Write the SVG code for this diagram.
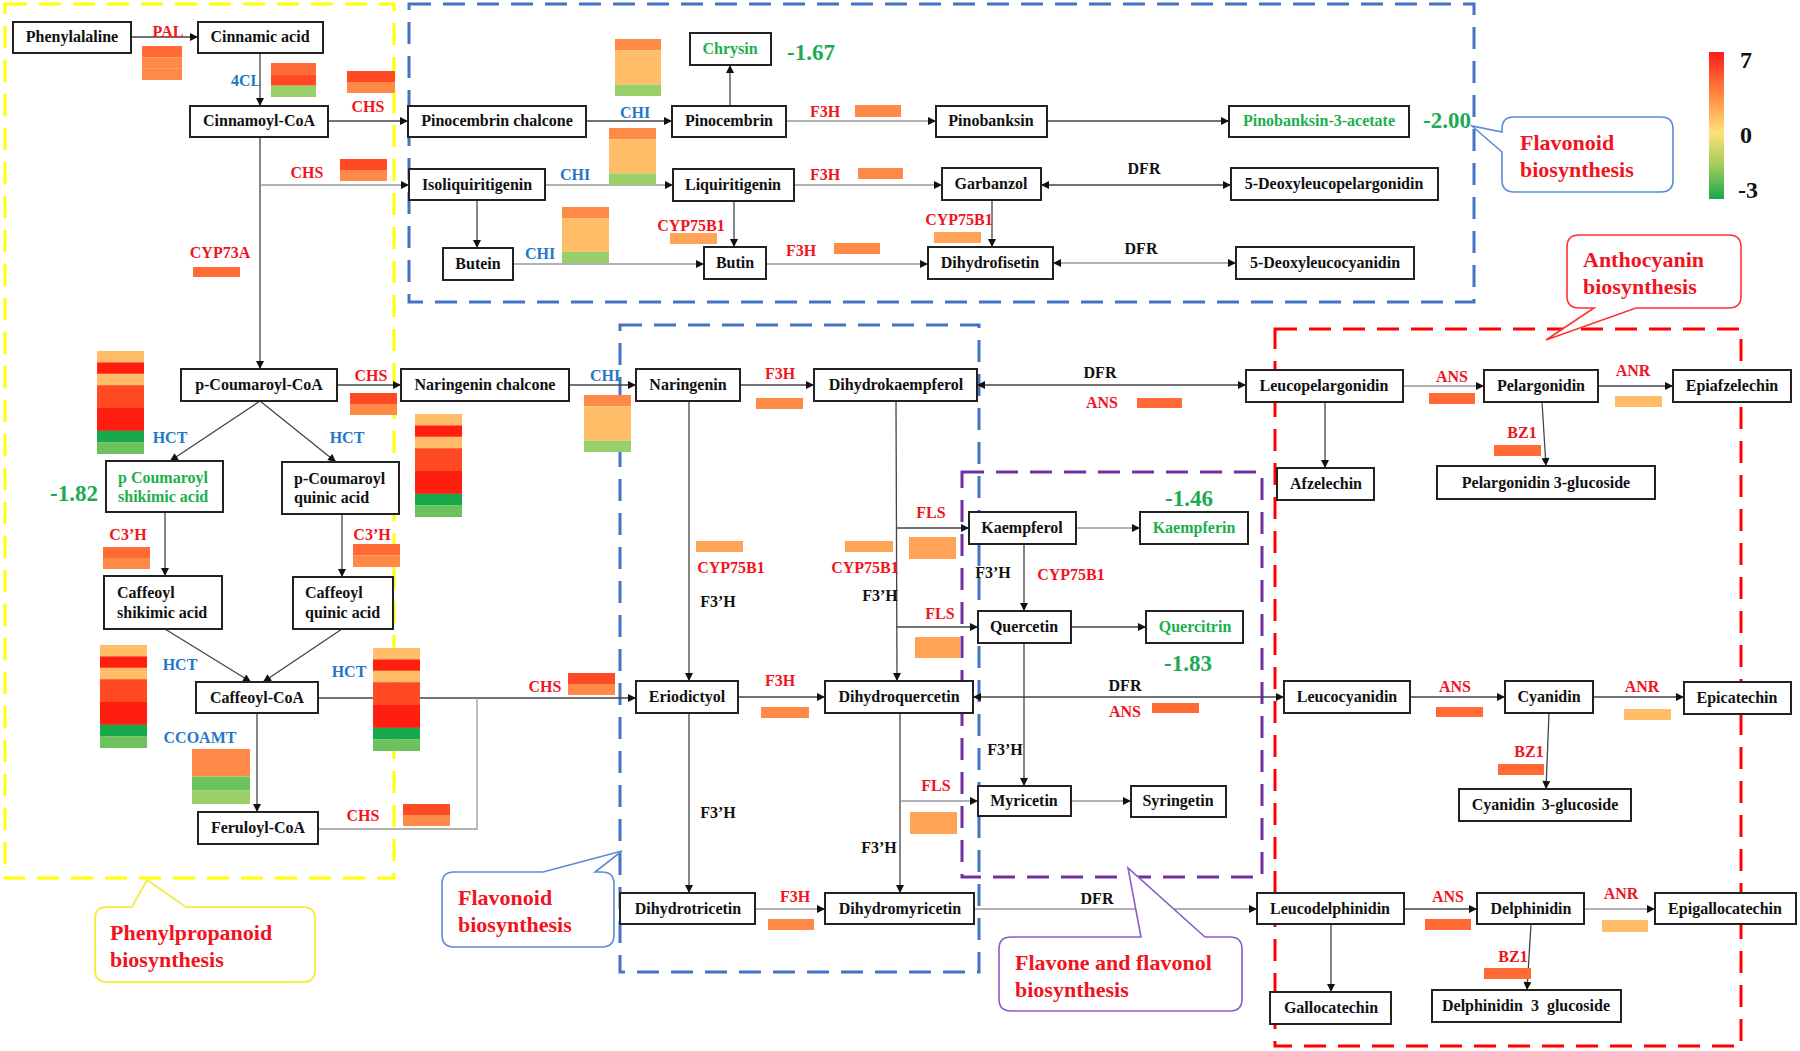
<svg xmlns="http://www.w3.org/2000/svg" width="1800" height="1051" viewBox="0 0 1800 1051">
<defs>
<style>
text{font-family:"Liberation Serif","Times New Roman",serif;font-weight:bold}
.bx{fill:#fff;stroke:#222;stroke-width:2}
.nt{font-size:16px;fill:#111;text-anchor:middle}
.nl{font-size:16px;fill:#111}
.gt{fill:#1DAF4B}
.er{font-size:16px;fill:#F0141E;text-anchor:middle}
.eb{font-size:16px;fill:#2477C8;text-anchor:middle}
.ek{font-size:16px;fill:#111;text-anchor:middle}
.num{font-size:23px;fill:#1DAA55;text-anchor:middle}
.ct{font-size:22px;fill:#F0141E}
.ln{fill:none;stroke:#444;stroke-width:1.3}
.lg{fill:none;stroke:#999;stroke-width:1.3}
.r1{fill:#FF1E0F}.r2{fill:#FF4A24}.o1{fill:#FF6A35}.o2{fill:#FF8A48}.o3{fill:#FFA456}.p1{fill:#FFBD68}
.g1{fill:#17A84B}.g2{fill:#6CC35E}.g3{fill:#98CF68}
.dash{fill:none;stroke-width:3;stroke-dasharray:22 12}
</style>
<marker id="ah" viewBox="0 0 10 10" refX="10" refY="5" markerWidth="9" markerHeight="8" markerUnits="userSpaceOnUse" orient="auto-start-reverse"><path d="M0,0 L10,5 L0,10 z" fill="#111"/></marker>
<linearGradient id="cb" x1="0" y1="0" x2="0" y2="1">
<stop offset="0" stop-color="#FF1A1A"/><stop offset="0.3" stop-color="#FF8C40"/><stop offset="0.55" stop-color="#FFE07A"/><stop offset="0.78" stop-color="#9CCB5A"/><stop offset="1" stop-color="#17A84B"/>
</linearGradient>
</defs>
<rect width="1800" height="1051" fill="#fff"/>

<g id="regions">
<rect class="dash" x="5" y="4" width="389" height="874" stroke="#FFFF00"/>
<rect class="dash" x="409" y="4" width="1065" height="298" stroke="#4472C4"/>
<rect class="dash" x="620" y="325" width="359" height="647" stroke="#4472C4"/>
<rect class="dash" x="962" y="472" width="300" height="405" stroke="#7030A0"/>
<rect class="dash" x="1275" y="329" width="466" height="717" stroke="#FF0000"/>
</g>

<g id="connectors">
<line class="ln" x1="131" y1="37" x2="198" y2="37" marker-end="url(#ah)"/>
<line class="ln" x1="260" y1="53" x2="260" y2="106" marker-end="url(#ah)"/>
<line class="ln" x1="328" y1="121" x2="408" y2="121" marker-end="url(#ah)"/>
<line class="ln" x1="260" y1="137" x2="260" y2="369" marker-end="url(#ah)"/>
<line class="lg" x1="260" y1="185" x2="409" y2="185" marker-end="url(#ah)"/>
<line class="ln" x1="586" y1="121" x2="672" y2="121" marker-end="url(#ah)"/>
<line class="ln" x1="730" y1="106" x2="730" y2="65" marker-end="url(#ah)"/>
<line class="lg" x1="786" y1="121" x2="936" y2="121" marker-end="url(#ah)"/>
<line class="ln" x1="1047" y1="121" x2="1229" y2="121" marker-end="url(#ah)"/>
<line class="lg" x1="545" y1="185" x2="673" y2="185" marker-end="url(#ah)"/>
<line class="ln" x1="477" y1="200" x2="477" y2="248" marker-end="url(#ah)"/>
<line class="lg" x1="794" y1="185" x2="942" y2="185" marker-end="url(#ah)"/>
<line class="ln" x1="1041" y1="185" x2="1231" y2="185" marker-start="url(#ah)" marker-end="url(#ah)"/>
<line class="ln" x1="734" y1="201" x2="734" y2="247" marker-end="url(#ah)"/>
<line class="lg" x1="513" y1="264" x2="704" y2="264" marker-end="url(#ah)"/>
<line class="lg" x1="766" y1="264" x2="928" y2="264" marker-end="url(#ah)"/>
<line class="ln" x1="992" y1="200" x2="992" y2="247" marker-end="url(#ah)"/>
<line class="lg" x1="1053" y1="263" x2="1236" y2="263" marker-start="url(#ah)" marker-end="url(#ah)"/>
<line class="ln" x1="337" y1="385" x2="401" y2="385" marker-end="url(#ah)"/>
<line class="ln" x1="569" y1="385" x2="636" y2="385" marker-end="url(#ah)"/>
<line class="ln" x1="740" y1="385" x2="814" y2="385" marker-end="url(#ah)"/>
<line class="ln" x1="977" y1="385" x2="1246" y2="385" marker-start="url(#ah)" marker-end="url(#ah)"/>
<line class="lg" x1="1403" y1="386" x2="1484" y2="386" marker-end="url(#ah)"/>
<line class="ln" x1="1598" y1="386" x2="1673" y2="386" marker-end="url(#ah)"/>
<line class="ln" x1="1325" y1="402" x2="1325" y2="468" marker-end="url(#ah)"/>
<line class="ln" x1="1542" y1="402" x2="1546" y2="466" marker-end="url(#ah)"/>
<line class="ln" x1="260" y1="401" x2="170" y2="461" marker-end="url(#ah)"/>
<line class="ln" x1="260" y1="401" x2="336" y2="462" marker-end="url(#ah)"/>
<line class="ln" x1="165" y1="512" x2="165" y2="576" marker-end="url(#ah)"/>
<line class="ln" x1="342" y1="514" x2="342" y2="577" marker-end="url(#ah)"/>
<line class="ln" x1="165" y1="629" x2="251" y2="682" marker-end="url(#ah)"/>
<line class="ln" x1="342" y1="629" x2="263" y2="682" marker-end="url(#ah)"/>
<line class="ln" x1="257" y1="713" x2="257" y2="812" marker-end="url(#ah)"/>
<line class="ln" x1="318" y1="698" x2="636" y2="698" marker-end="url(#ah)"/>
<polyline class="lg" points="318,829 477,829 477,698"/>
<line class="ln" x1="689" y1="401" x2="689" y2="681" marker-end="url(#ah)"/>
<line class="ln" x1="896" y1="401" x2="897" y2="681" marker-end="url(#ah)"/>
<line class="ln" x1="897" y1="528" x2="969" y2="528" marker-end="url(#ah)"/>
<line class="ln" x1="897" y1="627" x2="978" y2="627" marker-end="url(#ah)"/>
<line class="ln" x1="738" y1="697" x2="825" y2="697" marker-end="url(#ah)"/>
<line class="ln" x1="973" y1="697" x2="1284" y2="697" marker-start="url(#ah)" marker-end="url(#ah)"/>
<line class="ln" x1="1410" y1="697" x2="1505" y2="697" marker-end="url(#ah)"/>
<line class="ln" x1="1593" y1="697" x2="1684" y2="697" marker-end="url(#ah)"/>
<line class="ln" x1="1549" y1="713" x2="1546" y2="789" marker-end="url(#ah)"/>
<line class="lg" x1="1076" y1="528" x2="1140" y2="528" marker-end="url(#ah)"/>
<line class="ln" x1="1024" y1="544" x2="1024" y2="611" marker-end="url(#ah)"/>
<line class="ln" x1="1071" y1="627" x2="1146" y2="627" marker-end="url(#ah)"/>
<line class="ln" x1="1024" y1="643" x2="1024" y2="786" marker-end="url(#ah)"/>
<line class="lg" x1="1071" y1="801" x2="1131" y2="801" marker-end="url(#ah)"/>
<line class="ln" x1="900" y1="713" x2="900" y2="893" marker-end="url(#ah)"/>
<line class="lg" x1="900" y1="801" x2="978" y2="801" marker-end="url(#ah)"/>
<line class="ln" x1="689" y1="713" x2="689" y2="893" marker-end="url(#ah)"/>
<line class="lg" x1="755" y1="909" x2="825" y2="909" marker-end="url(#ah)"/>
<line class="lg" x1="974" y1="909" x2="1257" y2="909" marker-end="url(#ah)"/>
<line class="ln" x1="1404" y1="909" x2="1477" y2="909" marker-end="url(#ah)"/>
<line class="lg" x1="1584" y1="909" x2="1655" y2="909" marker-end="url(#ah)"/>
<line class="ln" x1="1331" y1="924" x2="1331" y2="992" marker-end="url(#ah)"/>
<line class="ln" x1="1531" y1="924" x2="1527" y2="990" marker-end="url(#ah)"/>
</g>

<g id="heatmaps">
<rect class="o1" x="142" y="46" width="40" height="11.4"/><rect class="o2" x="142" y="57.3" width="40" height="11.4"/><rect class="o2" x="142" y="68.6" width="40" height="11.4"/>
<rect class="o1" x="271" y="63" width="45" height="11.4"/><rect class="r2" x="271" y="74.3" width="45" height="11.4"/><rect class="g3" x="271" y="85.6" width="45" height="11.4"/>
<rect class="r2" x="347" y="71" width="48" height="11"/><rect class="o2" x="347" y="82" width="48" height="11"/>
<rect class="r2" x="340" y="159" width="47" height="11"/><rect class="o2" x="340" y="170" width="47" height="11"/>
<rect class="o1" x="193" y="267" width="47" height="10"/>
<rect class="o2" x="615" y="39" width="46" height="11.4"/><rect class="p1" x="615" y="50.4" width="46" height="34.2"/><rect class="g3" x="615" y="84.6" width="46" height="11.4"/>
<rect class="o2" x="855" y="105" width="46" height="12"/>
<rect class="o2" x="609" y="128" width="47" height="11.4"/><rect class="p1" x="609" y="139.4" width="47" height="34.2"/><rect class="g3" x="609" y="173.6" width="47" height="11.4"/>
<rect class="o2" x="858" y="168" width="45" height="11"/>
<rect class="o2" x="562" y="207" width="47" height="11.2"/><rect class="p1" x="562" y="218.2" width="47" height="33.6"/><rect class="g3" x="562" y="251.8" width="47" height="11.2"/>
<rect class="o3" x="670" y="233" width="47" height="11"/>
<rect class="o2" x="834" y="243" width="46" height="11"/>
<rect class="o3" x="934" y="232" width="47" height="11"/>
<rect class="r2" x="350" y="393" width="47" height="11"/><rect class="o2" x="350" y="404" width="47" height="11"/>
<g id="hm-big1">
<rect class="p1" x="97" y="351" width="47" height="11.5"/><rect class="r1" x="97" y="362.4" width="47" height="11.5"/><rect class="p1" x="97" y="373.8" width="47" height="11.5"/><rect class="r2" x="97" y="385.2" width="47" height="22.9"/><rect class="r1" x="97" y="408" width="47" height="22.9"/><rect class="g1" x="97" y="430.8" width="47" height="11.5"/><rect class="g2" x="97" y="442.2" width="47" height="11.8"/>
</g>
<g id="hm-big2">
<rect class="p1" x="415" y="414" width="47" height="11.5"/><rect class="r1" x="415" y="425.4" width="47" height="11.5"/><rect class="p1" x="415" y="436.8" width="47" height="11.5"/><rect class="r2" x="415" y="448.2" width="47" height="22.9"/><rect class="r1" x="415" y="471" width="47" height="22.9"/><rect class="g1" x="415" y="493.8" width="47" height="11.5"/><rect class="g2" x="415" y="505.2" width="47" height="11.8"/>
</g>
<rect class="o2" x="584" y="395" width="47" height="11.4"/><rect class="p1" x="584" y="406.4" width="47" height="34.2"/><rect class="g3" x="584" y="440.6" width="47" height="11.4"/>
<rect class="o2" x="756" y="398" width="47" height="11"/>
<rect class="o1" x="1137" y="398" width="45" height="10"/>
<rect class="o1" x="1429" y="393" width="46" height="11"/>
<rect class="p1" x="1615" y="396" width="47" height="11"/>
<rect class="o1" x="1494" y="445" width="47" height="11"/>
<rect class="o1" x="103" y="547" width="47" height="11"/><rect class="o2" x="103" y="558" width="47" height="11"/>
<rect class="o1" x="353" y="544" width="47" height="11.5"/><rect class="o2" x="353" y="555.5" width="47" height="11.5"/>
<g id="hm-big3">
<rect class="p1" x="100" y="645" width="47" height="11.5"/><rect class="r1" x="100" y="656.4" width="47" height="11.5"/><rect class="p1" x="100" y="667.8" width="47" height="11.5"/><rect class="r2" x="100" y="679.2" width="47" height="22.9"/><rect class="r1" x="100" y="702" width="47" height="22.9"/><rect class="g1" x="100" y="724.8" width="47" height="11.5"/><rect class="g2" x="100" y="736.2" width="47" height="11.8"/>
</g>
<g id="hm-big4">
<rect class="p1" x="373" y="648" width="47" height="11.5"/><rect class="r1" x="373" y="659.4" width="47" height="11.5"/><rect class="p1" x="373" y="670.8" width="47" height="11.5"/><rect class="r2" x="373" y="682.2" width="47" height="22.9"/><rect class="r1" x="373" y="705" width="47" height="22.9"/><rect class="g1" x="373" y="727.8" width="47" height="11.5"/><rect class="g2" x="373" y="739.2" width="47" height="11.8"/>
</g>
<rect class="o2" x="192" y="749" width="58" height="27.5"/><rect class="g2" x="192" y="776.5" width="58" height="14"/><rect class="g3" x="192" y="790.3" width="58" height="13.7"/>
<rect class="r2" x="568" y="673" width="47" height="11"/><rect class="o2" x="568" y="684" width="47" height="11"/>
<rect class="r2" x="403" y="804" width="47" height="11"/><rect class="o2" x="403" y="815" width="47" height="11"/>
<rect class="o3" x="696" y="541" width="47" height="11"/>
<rect class="o3" x="845" y="541" width="48" height="11"/>
<rect class="o3" x="909" y="537" width="47" height="22"/>
<rect class="o3" x="915" y="637" width="45" height="21"/>
<rect class="o3" x="910" y="812" width="47" height="22"/>
<rect class="o2" x="761" y="707" width="48" height="11"/>
<rect class="o1" x="1152" y="703" width="47" height="10"/>
<rect class="o1" x="1436" y="707" width="47" height="10"/>
<rect class="p1" x="1624" y="709" width="47" height="11"/>
<rect class="o1" x="1498" y="764" width="46" height="11"/>
<rect class="o2" x="768" y="919" width="46" height="11"/>
<rect class="o1" x="1425" y="919" width="46" height="11"/>
<rect class="p1" x="1602" y="920" width="46" height="12"/>
<rect class="o1" x="1484" y="968" width="47" height="11"/>
</g>

<g id="n-phenylalaline"><rect class="bx" x="13" y="22" width="118" height="31"/><text class="nt" x="72" y="42">Phenylalaline</text></g>
<g id="n-cinnamic"><rect class="bx" x="198" y="22" width="125" height="31"/><text class="nt" x="260" y="42">Cinnamic acid</text></g>
<g id="n-cinnamoylcoa"><rect class="bx" x="190" y="106" width="138" height="31"/><text class="nt" x="259" y="126">Cinnamoyl-CoA</text></g>
<g id="n-pinocembrinchalcone"><rect class="bx" x="408" y="106" width="178" height="31"/><text class="nt" x="497" y="126">Pinocembrin chalcone</text></g>
<g id="n-chrysin"><rect class="bx" x="690" y="33" width="81" height="32"/><text class="nt gt" x="730" y="54">Chrysin</text></g>
<g id="n-pinocembrin"><rect class="bx" x="672" y="106" width="114" height="31"/><text class="nt" x="729" y="126">Pinocembrin</text></g>
<g id="n-pinobanksin"><rect class="bx" x="936" y="106" width="111" height="31"/><text class="nt" x="991" y="126">Pinobanksin</text></g>
<g id="n-pinobanksin3acetate"><rect class="bx" x="1229" y="106" width="180" height="31"/><text class="nt gt" x="1319" y="126">Pinobanksin-3-acetate</text></g>
<g id="n-isoliquiritigenin"><rect class="bx" x="409" y="169" width="136" height="31"/><text class="nt" x="477" y="190">Isoliquiritigenin</text></g>
<g id="n-liquiritigenin"><rect class="bx" x="673" y="169" width="121" height="32"/><text class="nt" x="733" y="190">Liquiritigenin</text></g>
<g id="n-garbanzol"><rect class="bx" x="942" y="168" width="99" height="32"/><text class="nt" x="991" y="189">Garbanzol</text></g>
<g id="n-5deoxyleucopelargonidin"><rect class="bx" x="1231" y="168" width="207" height="32"/><text class="nt" x="1334" y="189">5-Deoxyleucopelargonidin</text></g>
<g id="n-butein"><rect class="bx" x="443" y="248" width="70" height="32"/><text class="nt" x="478" y="269">Butein</text></g>
<g id="n-butin"><rect class="bx" x="704" y="247" width="62" height="32"/><text class="nt" x="735" y="268">Butin</text></g>
<g id="n-dihydrofisetin"><rect class="bx" x="928" y="247" width="125" height="32"/><text class="nt" x="990" y="268">Dihydrofisetin</text></g>
<g id="n-5deoxyleucocyanidin"><rect class="bx" x="1236" y="247" width="178" height="32"/><text class="nt" x="1325" y="268">5-Deoxyleucocyanidin</text></g>
<g id="n-pcoumaroylcoa"><rect class="bx" x="181" y="369" width="156" height="32"/><text class="nt" x="259" y="390">p-Coumaroyl-CoA</text></g>
<g id="n-naringeninchalcone"><rect class="bx" x="401" y="369" width="168" height="32"/><text class="nt" x="485" y="390">Naringenin chalcone</text></g>
<g id="n-naringenin"><rect class="bx" x="636" y="369" width="104" height="32"/><text class="nt" x="688" y="390">Naringenin</text></g>
<g id="n-dihydrokaempferol"><rect class="bx" x="814" y="369" width="163" height="32"/><text class="nt" x="896" y="390">Dihydrokaempferol</text></g>
<g id="n-leucopelargonidin"><rect class="bx" x="1246" y="370" width="157" height="32"/><text class="nt" x="1324" y="391">Leucopelargonidin</text></g>
<g id="n-pelargonidin"><rect class="bx" x="1484" y="370" width="114" height="32"/><text class="nt" x="1541" y="391">Pelargonidin</text></g>
<g id="n-epiafzelechin"><rect class="bx" x="1673" y="370" width="118" height="32"/><text class="nt" x="1732" y="391">Epiafzelechin</text></g>
<g id="n-afzelechin"><rect class="bx" x="1277" y="468" width="97" height="32"/><text class="nt" x="1326" y="489">Afzelechin</text></g>
<g id="n-pelargonidin3glucoside"><rect class="bx" x="1437" y="466" width="218" height="33"/><text class="nt" x="1546" y="488">Pelargonidin 3-glucoside</text></g>
<g id="n-pcoumaroylshikimic"><rect class="bx" x="106" y="461" width="117" height="51"/><text class="nl gt" x="118" y="483">p Coumaroyl<tspan x="118" y="502">shikimic acid</tspan></text></g>
<g id="n-pcoumaroylquinic"><rect class="bx" x="282" y="462" width="117" height="52"/><text class="nl" x="294" y="484">p-Coumaroyl<tspan x="294" y="503">quinic acid</tspan></text></g>
<g id="n-caffeoylshikimic"><rect class="bx" x="104" y="576" width="118" height="53"/><text class="nl" x="117" y="598">Caffeoyl<tspan x="117" y="618">shikimic acid</tspan></text></g>
<g id="n-caffeoylquinic"><rect class="bx" x="293" y="577" width="100" height="52"/><text class="nl" x="305" y="598">Caffeoyl<tspan x="305" y="618">quinic acid</tspan></text></g>
<g id="n-caffeoylcoa"><rect class="bx" x="196" y="682" width="122" height="31"/><text class="nt" x="257" y="703">Caffeoyl-CoA</text></g>
<g id="n-feruloylcoa"><rect class="bx" x="198" y="812" width="120" height="32"/><text class="nt" x="258" y="833">Feruloyl-CoA</text></g>
<g id="n-kaempferol"><rect class="bx" x="969" y="512" width="107" height="32"/><text class="nt" x="1022" y="533">Kaempferol</text></g>
<g id="n-kaempferin"><rect class="bx" x="1140" y="512" width="108" height="32"/><text class="nt gt" x="1194" y="533">Kaempferin</text></g>
<g id="n-quercetin"><rect class="bx" x="978" y="611" width="93" height="32"/><text class="nt" x="1024" y="632">Quercetin</text></g>
<g id="n-quercitrin"><rect class="bx" x="1146" y="611" width="97" height="32"/><text class="nt gt" x="1195" y="632">Quercitrin</text></g>
<g id="n-myricetin"><rect class="bx" x="978" y="786" width="93" height="30"/><text class="nt" x="1024" y="806">Myricetin</text></g>
<g id="n-syringetin"><rect class="bx" x="1131" y="786" width="95" height="31"/><text class="nt" x="1178" y="806">Syringetin</text></g>
<g id="n-eriodictyol"><rect class="bx" x="636" y="681" width="102" height="32"/><text class="nt" x="687" y="702">Eriodictyol</text></g>
<g id="n-dihydroquercetin"><rect class="bx" x="825" y="681" width="148" height="32"/><text class="nt" x="899" y="702">Dihydroquercetin</text></g>
<g id="n-leucocyanidin"><rect class="bx" x="1284" y="681" width="126" height="32"/><text class="nt" x="1347" y="702">Leucocyanidin</text></g>
<g id="n-cyanidin"><rect class="bx" x="1505" y="681" width="88" height="32"/><text class="nt" x="1549" y="702">Cyanidin</text></g>
<g id="n-epicatechin"><rect class="bx" x="1684" y="682" width="107" height="32"/><text class="nt" x="1737" y="703">Epicatechin</text></g>
<g id="n-cyanidin3glucoside"><rect class="bx" x="1459" y="789" width="172" height="32"/><text class="nt" x="1545" y="810" word-spacing="3">Cyanidin 3-glucoside</text></g>
<g id="n-dihydrotricetin"><rect class="bx" x="620" y="893" width="135" height="31"/><text class="nt" x="688" y="914">Dihydrotricetin</text></g>
<g id="n-dihydromyricetin"><rect class="bx" x="825" y="893" width="149" height="31"/><text class="nt" x="900" y="914">Dihydromyricetin</text></g>
<g id="n-leucodelphinidin"><rect class="bx" x="1257" y="893" width="147" height="31"/><text class="nt" x="1330" y="914">Leucodelphinidin</text></g>
<g id="n-delphinidin"><rect class="bx" x="1477" y="893" width="107" height="31"/><text class="nt" x="1531" y="914">Delphinidin</text></g>
<g id="n-epigallocatechin"><rect class="bx" x="1655" y="893" width="141" height="31"/><text class="nt" x="1725" y="914">Epigallocatechin</text></g>
<g id="n-gallocatechin"><rect class="bx" x="1270" y="992" width="121" height="32"/><text class="nt" x="1331" y="1013">Gallocatechin</text></g>
<g id="n-delphinidin3glucoside"><rect class="bx" x="1432" y="990" width="189" height="32"/><text class="nt" x="1526" y="1011" word-spacing="4">Delphinidin 3 glucoside</text></g>

<g id="enzymes">
<text class="er" x="168" y="37">PAL</text>
<text class="eb" x="246" y="86">4CL</text>
<text class="er" x="368" y="112">CHS</text>
<text class="er" x="307" y="178">CHS</text>
<text class="er" x="220" y="258">CYP73A</text>
<text class="eb" x="575" y="180">CHI</text>
<text class="eb" x="540" y="259">CHI</text>
<text class="eb" x="635" y="118">CHI</text>
<text class="er" x="825" y="117">F3H</text>
<text class="er" x="825" y="180">F3H</text>
<text class="er" x="801" y="256">F3H</text>
<text class="er" x="691" y="231">CYP75B1</text>
<text class="er" x="959" y="225">CYP75B1</text>
<text class="ek" x="1144" y="174">DFR</text>
<text class="ek" x="1141" y="254">DFR</text>
<text class="er" x="371" y="381">CHS</text>
<text class="eb" x="605" y="381">CHI</text>
<text class="er" x="780" y="379">F3H</text>
<text class="ek" x="1100" y="378">DFR</text>
<text class="er" x="1102" y="408">ANS</text>
<text class="er" x="1452" y="382">ANS</text>
<text class="er" x="1633" y="376">ANR</text>
<text class="er" x="1522" y="438">BZ1</text>
<text class="eb" x="170" y="443">HCT</text>
<text class="eb" x="347" y="443">HCT</text>
<text class="er" x="128" y="540">C3’H</text>
<text class="er" x="372" y="540">C3’H</text>
<text class="eb" x="180" y="670">HCT</text>
<text class="eb" x="349" y="677">HCT</text>
<text class="eb" x="200" y="743">CCOAMT</text>
<text class="er" x="545" y="692">CHS</text>
<text class="er" x="363" y="821">CHS</text>
<text class="er" x="931" y="518">FLS</text>
<text class="er" x="731" y="573">CYP75B1</text>
<text class="er" x="865" y="573">CYP75B1</text>
<text class="ek" x="718" y="607">F3’H</text>
<text class="ek" x="880" y="601">F3’H</text>
<text class="ek" x="993" y="578">F3’H</text>
<text class="er" x="1071" y="580">CYP75B1</text>
<text class="er" x="940" y="619">FLS</text>
<text class="er" x="780" y="686">F3H</text>
<text class="ek" x="1125" y="691">DFR</text>
<text class="er" x="1125" y="717">ANS</text>
<text class="er" x="1455" y="692">ANS</text>
<text class="er" x="1642" y="692">ANR</text>
<text class="er" x="1529" y="757">BZ1</text>
<text class="ek" x="1005" y="755">F3’H</text>
<text class="er" x="936" y="791">FLS</text>
<text class="ek" x="718" y="818">F3’H</text>
<text class="ek" x="879" y="853">F3’H</text>
<text class="er" x="795" y="902">F3H</text>
<text class="ek" x="1097" y="904">DFR</text>
<text class="er" x="1448" y="902">ANS</text>
<text class="er" x="1621" y="899">ANR</text>
<text class="er" x="1513" y="962">BZ1</text>
</g>

<g id="values">
<text class="num" x="811" y="60">-1.67</text>
<text class="num" x="1447" y="128">-2.00</text>
<text class="num" x="74" y="501">-1.82</text>
<text class="num" x="1189" y="506">-1.46</text>
<text class="num" x="1188" y="671">-1.83</text>
</g>

<g id="callouts">
<path d="M107,907 L132,907 L147,880 L186,907 L303,907 Q315,907 315,919 L315,970 Q315,982 303,982 L107,982 Q95,982 95,970 L95,919 Q95,907 107,907 Z" fill="#fff" stroke="#F3EE50" stroke-width="2"/>
<text class="ct" x="110" y="940">Phenylpropanoid</text>
<text class="ct" x="110" y="967">biosynthesis</text>
<path d="M454,872 L543,872 L622,851 L595,872 L602,872 Q614,872 614,884 L614,935 Q614,947 602,947 L454,947 Q442,947 442,935 L442,884 Q442,872 454,872 Z" fill="#fff" stroke="#5B8BD6" stroke-width="1.6"/>
<text class="ct" x="458" y="905">Flavonoid</text>
<text class="ct" x="458" y="932">biosynthesis</text>
<path d="M1514,117 L1661,117 Q1673,117 1673,129 L1673,180 Q1673,192 1661,192 L1514,192 Q1502,192 1502,180 L1502,152 L1472,126 L1502,132 L1502,129 Q1502,117 1514,117 Z" fill="#fff" stroke="#5B8BD6" stroke-width="1.6"/>
<text class="ct" x="1520" y="150">Flavonoid</text>
<text class="ct" x="1520" y="177">biosynthesis</text>
<path d="M1579,235 L1729,235 Q1741,235 1741,247 L1741,296 Q1741,308 1729,308 L1636,308 L1546,340 L1594,308 L1579,308 Q1567,308 1567,296 L1567,247 Q1567,235 1579,235 Z" fill="#fff" stroke="#FF3333" stroke-width="1.6"/>
<text class="ct" x="1583" y="267">Anthocyanin</text>
<text class="ct" x="1583" y="294">biosynthesis</text>
<path d="M1011,937 L1141,937 L1128,868 L1205,937 L1230,937 Q1242,937 1242,949 L1242,999 Q1242,1011 1230,1011 L1011,1011 Q999,1011 999,999 L999,949 Q999,937 1011,937 Z" fill="#fff" stroke="#8A5CC8" stroke-width="1.6"/>
<text class="ct" x="1015" y="970">Flavone and flavonol</text>
<text class="ct" x="1015" y="997">biosynthesis</text>
</g>

<g id="legend">
<rect x="1709" y="52" width="15" height="147" fill="url(#cb)"/>
<text x="1740" y="68" font-size="24" fill="#111">7</text>
<text x="1740" y="143" font-size="24" fill="#111">0</text>
<text x="1738" y="198" font-size="24" fill="#111">-3</text>
</g>
</svg>
